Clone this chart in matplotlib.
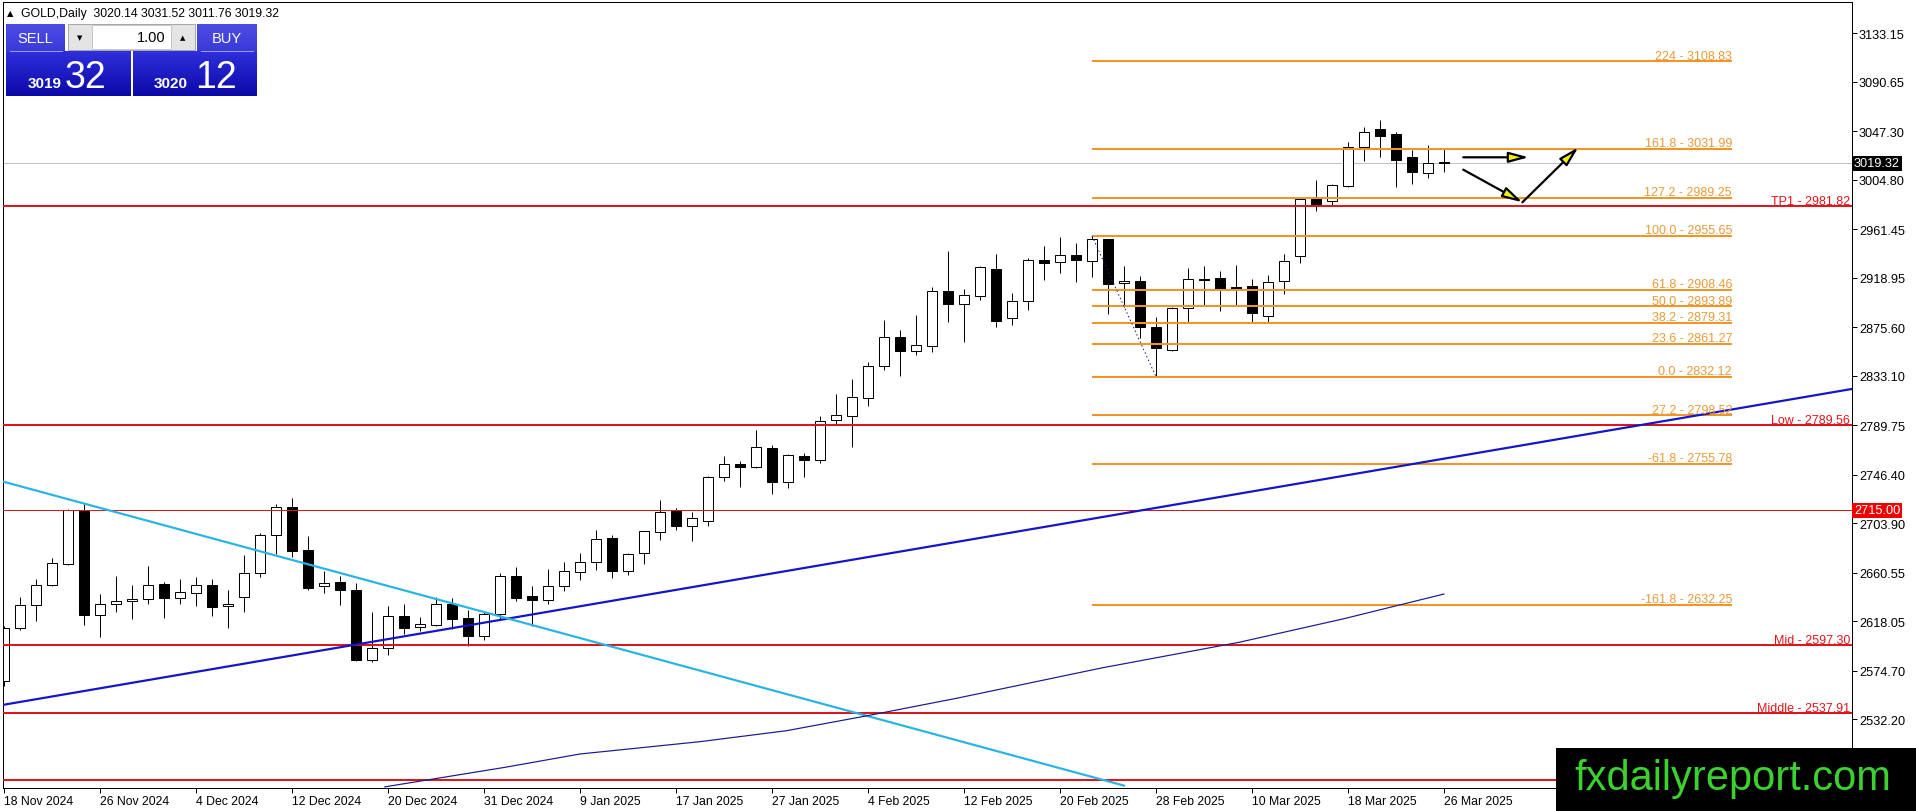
import numpy as np
import matplotlib.pyplot as plt
from matplotlib.patches import Rectangle, FancyArrowPatch
from matplotlib.colors import to_rgb

plt.rcParams['font.family'] = ['Liberation Sans', 'DejaVu Sans']

# GOLD daily bars, 18 Nov 2024 .. 26 Mar 2025
opens = [2566.0, 2612.0, 2632.0, 2650.0, 2668.2, 2714.9, 2623.7, 2632.8, 2635.4, 2637.2,
         2650.6, 2638.6, 2642.4, 2649.4, 2631.0, 2638.9, 2660.5, 2693.8, 2717.8, 2680.4,
         2649.1, 2652.3, 2645.3, 2584.3, 2594.2, 2622.5, 2612.6, 2615.0, 2632.8, 2620.5,
         2605.3, 2624.0, 2657.3, 2639.8, 2636.3, 2648.6, 2660.8, 2669.6, 2690.6, 2662.3,
         2677.5, 2695.9, 2714.6, 2701.7, 2706.1, 2744.1, 2755.5, 2753.4, 2769.8, 2739.7,
         2762.5, 2759.0, 2794.6, 2797.5, 2813.3, 2841.3, 2866.8, 2855.1, 2859.4, 2907.1,
         2896.3, 2903.3, 2926.6, 2883.4, 2898.3, 2934.2, 2932.5, 2938.6, 2933.9, 2952.9,
         2914.1, 2916.1, 2876.1, 2855.9, 2892.2, 2918.2, 2918.5, 2910.6, 2911.4, 2885.7,
         2916.4, 2937.7, 2988.0, 2986.0, 2999.7, 3033.2, 3049.3, 3044.9, 3024.5, 3010.5,
         3020.14]
highs = [2614.0, 2639.0, 2655.0, 2673.0, 2716.5, 2720.7, 2641.8, 2657.6, 2649.7, 2666.0,
         2652.0, 2655.0, 2656.4, 2655.0, 2645.3, 2675.7, 2695.0, 2720.7, 2726.0, 2692.4,
         2662.3, 2657.9, 2651.2, 2625.8, 2631.3, 2633.1, 2621.4, 2639.5, 2638.3, 2627.8,
         2627.0, 2660.0, 2665.2, 2648.6, 2663.7, 2670.2, 2677.8, 2697.9, 2693.5, 2677.8,
         2697.0, 2724.2, 2717.2, 2713.7, 2745.5, 2762.5, 2758.7, 2785.5, 2772.4, 2764.5,
         2765.4, 2797.5, 2817.1, 2830.2, 2844.8, 2881.9, 2873.2, 2886.3, 2910.6, 2942.1,
         2909.1, 2929.6, 2939.8, 2905.6, 2936.0, 2946.5, 2954.4, 2949.4, 2955.6, 2953.0,
         2929.6, 2920.2, 2884.3, 2893.0, 2927.2, 2929.0, 2925.2, 2930.1, 2917.9, 2921.4,
         2939.8, 2988.5, 3004.6, 3001.1, 3037.6, 3050.8, 3057.2, 3046.4, 3031.2, 3035.3,
         3031.52]
lows = [2561.0, 2610.0, 2618.5, 2648.5, 2667.5, 2615.0, 2604.4, 2626.3, 2619.9, 2633.1,
        2621.1, 2633.1, 2631.6, 2622.8, 2612.3, 2626.3, 2656.7, 2676.9, 2674.5, 2645.3,
        2642.7, 2632.5, 2583.4, 2582.5, 2588.7, 2606.8, 2609.4, 2614.1, 2611.2, 2596.0,
        2601.5, 2620.0, 2636.0, 2614.1, 2632.8, 2644.8, 2654.4, 2663.2, 2656.1, 2658.8,
        2668.1, 2689.4, 2698.2, 2688.6, 2701.7, 2741.1, 2735.3, 2752.2, 2729.5, 2734.4,
        2744.1, 2756.6, 2790.8, 2770.9, 2806.3, 2838.4, 2833.2, 2851.6, 2854.2, 2880.5,
        2863.0, 2899.8, 2876.1, 2877.6, 2891.0, 2917.3, 2923.4, 2915.5, 2919.9, 2887.2,
        2893.0, 2865.9, 2832.1, 2855.0, 2880.5, 2894.5, 2890.1, 2894.5, 2880.5, 2880.5,
        2904.7, 2931.9, 2977.7, 2982.1, 2998.2, 3021.6, 3024.5, 2998.2, 3001.1, 3006.4,
        3011.76]
closes = [2612.0, 2632.0, 2650.0, 2669.0, 2715.7, 2623.7, 2632.8, 2635.4, 2637.4, 2649.4,
          2638.6, 2643.3, 2649.4, 2630.7, 2633.1, 2659.9, 2693.2, 2717.8, 2679.8, 2647.1,
          2651.8, 2645.6, 2584.3, 2594.2, 2622.3, 2612.3, 2615.3, 2632.8, 2620.2, 2605.3,
          2624.0, 2657.3, 2638.6, 2636.3, 2648.6, 2661.7, 2669.6, 2689.7, 2662.3, 2676.9,
          2696.7, 2713.4, 2701.7, 2708.1, 2744.1, 2755.5, 2753.4, 2770.4, 2740.3, 2763.3,
          2759.0, 2793.7, 2798.4, 2814.2, 2841.3, 2866.8, 2855.1, 2859.7, 2907.1, 2896.3,
          2903.6, 2928.1, 2881.4, 2898.3, 2934.2, 2932.2, 2938.6, 2934.8, 2952.6, 2913.5,
          2916.4, 2876.1, 2857.1, 2892.2, 2917.6, 2916.8, 2909.1, 2909.1, 2888.1, 2915.2,
          2933.3, 2988.0, 2983.9, 3000.0, 3033.2, 3046.4, 3043.5, 3022.4, 3011.3, 3019.2,
          3019.32]

date_index = [0, 6, 12, 18, 24, 30, 36, 42, 48, 54, 60, 66, 72, 78, 84, 90]
date_labels = ["18 Nov 2024", "26 Nov 2024", "4 Dec 2024", "12 Dec 2024", "20 Dec 2024",
               "31 Dec 2024", "9 Jan 2025", "17 Jan 2025", "27 Jan 2025", "4 Feb 2025",
               "12 Feb 2025", "20 Feb 2025", "28 Feb 2025", "10 Mar 2025", "18 Mar 2025",
               "26 Mar 2025"]

price_ticks = [3133.15, 3090.65, 3047.30, 3004.80, 2961.45, 2918.95, 2875.60, 2833.10,
               2789.75, 2746.40, 2703.90, 2660.55, 2618.05, 2574.70, 2532.20]

fib_levels = [3108.83, 3031.99, 2989.25, 2955.65, 2908.46, 2893.89, 2879.31, 2861.27,
              2832.12, 2798.52, 2755.78, 2632.25]
fib_labels = ["224 - 3108.83", "161.8 - 3031.99", "127.2 - 2989.25", "100.0 - 2955.65",
              "61.8 - 2908.46", "50.0 - 2893.89", "38.2 - 2879.31", "23.6 - 2861.27",
              "0.0 - 2832.12", "27.2 - 2798.52", "-61.8 - 2755.78", "-161.8 - 2632.25"]
fib_high = (68, 2955.65)   # swing high bar / price
fib_low = (72, 2832.12)    # swing low bar / price
fib_end = 108

red_levels = [2981.82, 2789.56, 2597.30, 2537.91, 2479.0]
red_labels = ["TP1 - 2981.82", "Low - 2789.56", "Mid - 2597.30", "Middle - 2537.91", ""]
thin_red_level = 2715.00
bid = 3019.32

up_trend_bars = [0, 115.5]
up_trend_prices = [2544.8, 2821.5]
down_trend_bars = [0, 70]
down_trend_prices = [2740.1, 2473.9]

ma_bars = [23.8, 31.3, 36, 43.5, 48.9, 53.9, 59.6, 68.6, 77.2, 83.7, 90]
ma_vals = [2472.8, 2489.9, 2501.6, 2512.4, 2522.0, 2535.0, 2550.6, 2577.0, 2599.5, 2620.0, 2641.8]

# forecast arrows (start bar, start price, end bar, end price)
arrows = [(91.2, 3024.5, 95.3, 3024.5),
          (91.2, 3013.7, 94.9, 2985.1),
          (94.9, 2985.1, 98.4, 3033.3)]

W, H, DPI = 1916, 812, 100
PX = 72.0 / DPI  # one pixel in points

RED = '#E0161B'
ORANGE = '#F39424'
ORANGE_TXT = '#E99A3B'

fig = plt.figure(figsize=(W / DPI, H / DPI), dpi=DPI)
fig.patch.set_facecolor('white')

# plot area: x 3..1852 px, y 3..789 px
ax = fig.add_axes([3 / W, (H - 789) / H, 1849 / W, 786 / H])
ax.set_xlim(-0.0625, 115.5)
ax.set_ylim(2471.8, 3160.6)

for s in ax.spines.values():
    s.set_linewidth(PX)
    s.set_color('black')

# candles
x = np.arange(len(opens))
o = np.array(opens)
c = np.array(closes)
up = c >= o
ax.vlines(x, lows, highs, color='black', lw=PX, zorder=2)
body_h = np.maximum(np.abs(c - o), 0.4)
ax.bar(x, body_h, bottom=np.minimum(o, c), width=0.6,
       color=np.where(up, 'white', 'black'), edgecolor='black', linewidth=PX, zorder=2.5)

# bid line
ax.axhline(bid, color='#C0C0C0', lw=PX, zorder=1.5)

# horizontal red levels
ax.hlines(red_levels, -1, 120, colors=RED, lw=2 * PX, zorder=3)
ax.axhline(thin_red_level, color=RED, lw=PX, zorder=3)
for lvl, lab in zip(red_levels, red_labels):
    if lab:
        ax.annotate(lab, xy=(1.0, lvl), xycoords=ax.get_yaxis_transform(),
                    xytext=(-2 * PX, 2 * PX), textcoords='offset points',
                    ha='right', va='baseline', color=RED, fontsize=9, zorder=4)

# fibonacci expansion
ax.hlines(fib_levels, fib_high[0], fib_end, colors=ORANGE, lw=2 * PX, zorder=3)
for lvl, lab in zip(fib_levels, fib_labels):
    ax.annotate(lab, xy=(fib_end, lvl), xytext=(0, 2.5 * PX), textcoords='offset points',
                ha='right', va='baseline', color=ORANGE_TXT, fontsize=9, zorder=4)
ax.plot([fib_high[0], fib_low[0]], [fib_high[1], fib_low[1]], color='#1A1A90',
        lw=PX, ls=(0, (1.5, 2.5)), zorder=3.5)

# trend lines and moving average
ax.plot(up_trend_bars, up_trend_prices, color='#1414C8', lw=2.2 * PX, zorder=3)
ax.plot(down_trend_bars, down_trend_prices, color='#2AB4E6', lw=2.2 * PX, zorder=3)
ax.plot(ma_bars, ma_vals, color='#1A1A8C', lw=1.2 * PX, zorder=3)

# arrows
for x0, y0, x1, y1 in arrows:
    ar = FancyArrowPatch((x0, y0), (x1, y1), arrowstyle='-|>,head_length=1.2,head_width=0.32',
                         mutation_scale=10, shrinkA=0, shrinkB=0, lw=1.6,
                         facecolor='#F2F20E', edgecolor='black', zorder=5)
    ax.add_patch(ar)

# axes ticks
ax.set_xticks(date_index, date_labels)
for t in ax.get_xticklabels():
    t.set_horizontalalignment('left')
ax.set_yticks(price_ticks, [f"{p:.2f}" for p in price_ticks])
ax.yaxis.tick_right()
ax.tick_params(axis='y', direction='out', length=5 * PX, width=PX, pad=2 * PX, labelsize=9.2)
ax.tick_params(axis='x', direction='out', length=5 * PX, width=PX, pad=2 * PX, labelsize=8.8)

# price tags on the axis
ytr = ax.get_yaxis_transform()
ax.text(1.0 + 2 / 1849, bid, f"{bid:.2f}", transform=ytr, ha='left', va='center',
        color='white', fontsize=9.2, zorder=6, clip_on=False,
        bbox=dict(boxstyle='square,pad=0.12', fc='black', ec='none'))
ax.text(1.0 + 2 / 1849, thin_red_level, f"{thin_red_level:.2f}", transform=ytr, ha='left',
        va='center', color='white', fontsize=9.2, zorder=6, clip_on=False,
        bbox=dict(boxstyle='square,pad=0.12', fc='#F00000', ec='none'))

# overlay in pixel coordinates for the trade panel and watermark
ov = fig.add_axes([0, 0, 1, 1], zorder=10)
ov.set_xlim(0, W)
ov.set_ylim(H, 0)
ov.axis('off')
ov.patch.set_visible(False)


def grad_box(x0, y0, x1, y1, c_top, c_bot, n=24):
    a, b = np.array(to_rgb(c_top)), np.array(to_rgb(c_bot))
    hstep = (y1 - y0) / n
    for k in range(n):
        col = a + (b - a) * (k / (n - 1))
        ov.add_patch(Rectangle((x0, y0 + k * hstep), x1 - x0, hstep + 0.3,
                               fc=col, ec='none', lw=0))


ov.text(7, 13.5, "\u25b2", fontsize=6, va='center', ha='left', color='black',
        family=['DejaVu Sans'])
ov.text(21.5, 13.5, "GOLD,Daily  3020.14 3031.52 3011.76 3019.32", fontsize=8.8,
        va='center', ha='left', color='black')

# sell / buy buttons
grad_box(6, 25, 65, 52, '#4B4BE4', '#3A3AD8')
grad_box(197, 25, 257, 52, '#4B4BE4', '#3A3AD8')
grad_box(6, 52, 131, 97, '#2E2EDA', '#0A0AA8')
grad_box(133, 52, 257, 97, '#2E2EDA', '#0A0AA8')
ov.plot([10, 62], [51.5, 51.5], color='#9A9AF0', lw=PX)
ov.plot([201, 253], [51.5, 51.5], color='#9A9AF0', lw=PX)
ov.text(35.5, 39, "SELL", color='white', fontsize=10.5, ha='center', va='center')
ov.text(227, 39, "BUY", color='white', fontsize=10.5, ha='center', va='center')

# lot spinner
ov.add_patch(Rectangle((68, 25), 127, 25.5, fc='#E4E4E4', ec='#A8A8A8', lw=PX))
ov.add_patch(Rectangle((92, 25.5), 79, 24.5, fc='white', ec='#C8C8C8', lw=PX))
ov.text(80, 38, "\u25bc", fontsize=5, ha='center', va='center', family=['DejaVu Sans'])
ov.text(183, 38, "\u25b2", fontsize=5, ha='center', va='center', family=['DejaVu Sans'])
ov.text(166, 38, "1.00", fontsize=10.5, ha='right', va='center', color='black')

ov.text(28, 88, "3019", color='white', fontsize=11, fontweight='bold', ha='left', va='baseline')
ov.text(65, 88, "32", color='white', fontsize=27, ha='left', va='baseline')
ov.text(154, 88, "3020", color='white', fontsize=11, fontweight='bold', ha='left', va='baseline')
ov.text(195, 88, "12", color='white', fontsize=27, ha='left', va='baseline')

# watermark
ov.add_patch(Rectangle((1556, 749), W - 1556, H - 749, fc='black', ec='none'))
ov.text(1574, 790, "fxdailyreport.com", color='#3BD12E', fontsize=30, ha='left',
        va='baseline')

fig.savefig("out.png", dpi=DPI)
